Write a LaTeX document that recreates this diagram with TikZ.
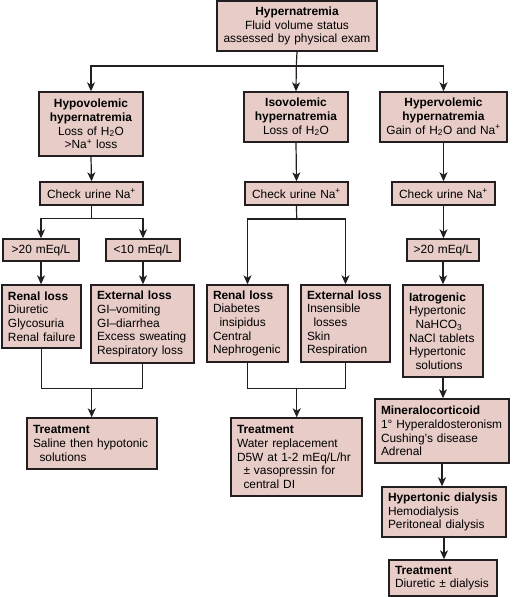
\documentclass[tikz,border=0pt]{standalone}
\usepackage{fontspec}
\setmainfont{Liberation Sans}
\usetikzlibrary{arrows.meta}
\definecolor{boxfill}{RGB}{231,204,199}
\definecolor{boxline}{RGB}{35,31,32}
\newcommand\ml[1]{\mbox{#1}}
\newcommand\ind{\hspace*{6.5pt}}
\begin{document}
\begin{tikzpicture}[x=1pt,y=-1pt,
  box/.style={draw=boxline, fill=boxfill, line width=1.4pt, inner ysep=1pt,
    font=\fontsize{11.9}{13.7}\selectfont, anchor=center},
  cbox/.style={box, inner xsep=3pt, align=center},
  lbox/.style={box, inner xsep=6pt, align=left},
  ln/.style={draw=boxline, line width=1.2pt},
  arr/.style={ln, -{Stealth[length=9pt,width=8pt,inset=2.5pt]}}]
\useasboundingbox (0,0) rectangle (512,597);

% row 1
\node[cbox, text width=154pt, minimum height=50pt] (top) at (297,26)
  {\ml{\textbf{Hypernatremia}}\\\ml{Fluid volume status}\\\ml{assessed by physical exam}};
% row 2
\node[cbox, text width=98pt, minimum height=64pt] (hypo) at (91,124)
  {\ml{\textbf{Hypovolemic}}\\\ml{\textbf{hypernatremia}}\\\ml{Loss of H\textsubscript{2}O}\\\ml{>Na\textsuperscript{+} loss}};
\node[cbox, text width=98pt, minimum height=50pt] (iso) at (296,117)
  {\ml{\textbf{Isovolemic}}\\\ml{\textbf{hypernatremia}}\\\ml{Loss of H\textsubscript{2}O}};
\node[cbox, text width=121pt, minimum height=50pt] (hyper) at (443.5,117)
  {\ml{\textbf{Hypervolemic}}\\\ml{\textbf{hypernatremia}}\\\ml{Gain of H\textsubscript{2}O and Na\textsuperscript{+}}};
% row 3
\node[cbox, text width=97pt, minimum height=23pt] (chk1) at (91.5,193.5) {\ml{Check urine Na\textsuperscript{+}}};
\node[cbox, text width=97pt, minimum height=23pt] (chk2) at (296.5,193.5) {\ml{Check urine Na\textsuperscript{+}}};
\node[cbox, text width=97pt, minimum height=23pt] (chk3) at (443.5,193.5) {\ml{Check urine Na\textsuperscript{+}}};
% row 4
\node[cbox, text width=70pt, minimum height=22pt] (ga) at (41,250) {\ml{>20 mEq/L}};
\node[cbox, text width=68pt, minimum height=22pt] (lt) at (143,250) {\ml{<10 mEq/L}};
\node[cbox, text width=66pt, minimum height=22pt] (gb) at (443,250) {\ml{>20 mEq/L}};
% row 5
\node[lbox, text width=67pt, minimum height=63pt] (renA) at (41.5,316.5)
  {\ml{\textbf{Renal loss}}\\\ml{Diuretic}\\\ml{Glycosuria}\\\ml{Renal failure}};
\node[lbox, text width=91pt, minimum height=78pt] (extA) at (142.5,324)
  {\ml{\textbf{External loss}}\\\ml{GI–vomiting}\\\ml{GI–diarrhea}\\\ml{Excess sweating}\\\ml{Respiratory loss}};
\node[lbox, text width=69pt, minimum height=77pt] (renB) at (247.5,323.5)
  {\ml{\textbf{Renal loss}}\\\ml{Diabetes}\\\ml{\ind insipidus}\\\ml{Central}\\\ml{Nephrogenic}};
\node[lbox, text width=77pt, minimum height=77pt] (extB) at (345.5,323.5)
  {\ml{\textbf{External loss}}\\\ml{Insensible}\\\ml{\ind losses}\\\ml{Skin}\\\ml{Respiration}};
\node[lbox, text width=68pt, minimum height=92pt] (iat) at (443,331)
  {\ml{\textbf{Iatrogenic}}\\\ml{Hypertonic}\\\ml{\ind NaHCO\textsubscript{3}}\\\ml{NaCl tablets}\\\ml{Hypertonic}\\\ml{\ind solutions}};
% lower boxes
\node[lbox, text width=118pt, minimum height=51pt] (trA) at (92,443.5)
  {\ml{\textbf{Treatment}}\\\ml{Saline then hypotonic}\\\ml{\ind solutions}};
\node[lbox, text width=119pt, minimum height=78pt] (trB) at (296.5,457)
  {\ml{\textbf{Treatment}}\\\ml{Water replacement}\\\ml{D5W at 1-2 mEq/L/hr}\\\ml{\ind ± vasopressin for}\\\ml{\ind central DI}};
\node[lbox, text width=122pt, minimum height=64pt] (min) at (442,431)
  {\ml{\textbf{Mineralocorticoid}}\\\ml{1° Hyperaldosteronism}\\\ml{Cushing's disease}\\\ml{Adrenal}};
\node[lbox, text width=112pt, minimum height=50pt] (hd) at (444,512)
  {\ml{\textbf{Hypertonic dialysis}}\\\ml{Hemodialysis}\\\ml{Peritoneal dialysis}};
\node[lbox, text width=96pt, minimum height=36pt] (trC) at (443,578)
  {\ml{\textbf{Treatment}}\\\ml{Diuretic ± dialysis}};

% junctions
\coordinate (j0) at (296.3,66);
\coordinate (j1) at (91.5,218.5);
\coordinate (j2) at (296.7,219);
\coordinate (j3) at (91.7,388.3);
\coordinate (j4) at (296.7,388.3);

% connectors
\draw[ln] (top.south) -- (j0);
\draw[arr] (j0) -| (hypo.north);
\draw[arr] (j0) -- (iso.north);
\draw[arr] (j0) -| (hyper.north);

\draw[arr] (hypo.south) -- (chk1.north);
\draw[arr] (iso.south) -- (chk2.north);
\draw[arr] (hyper.south) -- (chk3.north);

\draw[ln] (chk1.south) -- (j1);
\draw[arr] (j1) -| (ga.north);
\draw[arr] (j1) -| (lt.north);
\draw[arr] (ga.south) -- (ga.south |- renA.north);
\draw[arr] (lt.south) -- (lt.south |- extA.north);
\draw[ln] (renA.south) -- (renA.south |- j3) -- (extA.south |- j3) -- (extA.south);
\draw[arr] (j3) -- (j3 |- trA.north);

\draw[ln] (chk2.south) -- (j2);
\draw[arr] (j2) -| (renB.north);
\draw[arr] (j2) -| (extB.north);
\draw[ln] (renB.south) -- (renB.south |- j4) -- (extB.south |- j4) -- (extB.south);
\draw[arr] (j4) -- (j4 |- trB.north);

\draw[arr] (chk3.south) -- (chk3.south |- gb.north);
\draw[arr] (gb.south) -- (gb.south |- iat.north);
\draw[arr] (iat.south) -- (iat.south |- min.north);
\draw[arr] (min.south) -- (min.south |- hd.north);
\draw[arr] (hd.south) -- (hd.south |- trC.north);
\end{tikzpicture}
\end{document}
